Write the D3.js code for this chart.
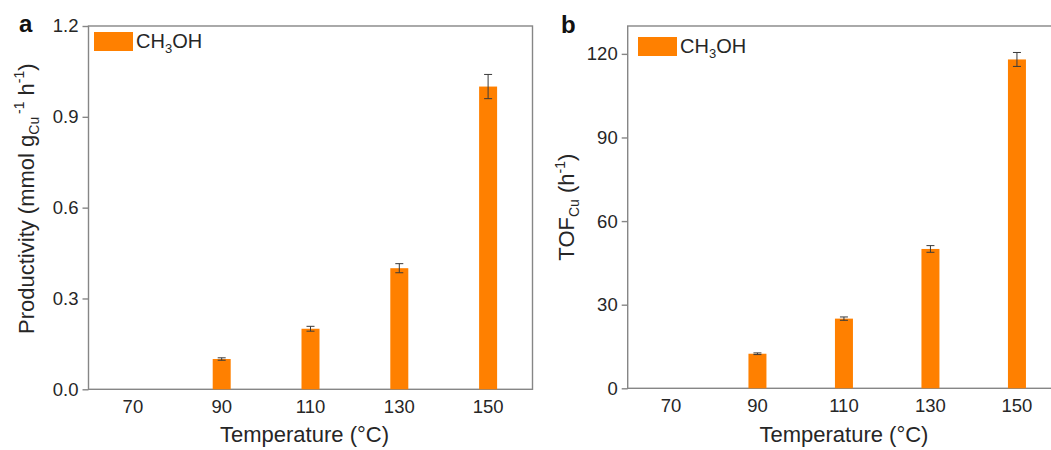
<!DOCTYPE html>
<html>
<head>
<meta charset="utf-8">
<script src="https://cdn.jsdelivr.net/npm/d3@7"></script>
<style>
  html, body { margin: 0; padding: 0; background: #fff; }
  svg { display: block; font-family: "Liberation Sans", Arial, sans-serif; }
</style>
</head>
<body>
<svg id="chart" width="1051" height="450"></svg>
<script>
// Reaction temperature categories (°C)
const temperatures = ["70", "90", "110", "130", "150"];

// Panel a: CH3OH productivity (mmol gCu^-1 h^-1) with error
const productivity = [0, 0.1, 0.2, 0.4, 1.0];
const productivityErr = [0, 0.004, 0.008, 0.015, 0.04];
const productivityTicks = [0, 0.3, 0.6, 0.9, 1.2];

// Panel b: Cu turnover frequency (h^-1) with error
const tof = [0, 12.4, 25, 50, 118];
const tofErr = [0, 0.3, 0.6, 1.2, 2.5];
const tofTicks = [0, 30, 60, 90, 120];

const seriesName = "CH3OH";
const barColor = "#ff8000";
const frameColor = "#868686";
const textColor = "#262626";

const svg = d3.select("#chart");

function drawPanel(opt) {
  const g = svg.append("g");
  const x = d3.scaleBand().domain(temperatures).range([opt.left, opt.right]).padding(0);
  const y = d3.scaleLinear().domain(opt.domain).range([opt.bottom, opt.top]);
  const barW = 18;

  // plot frame
  g.append("rect")
    .attr("x", opt.left).attr("y", opt.top)
    .attr("width", opt.right - opt.left).attr("height", opt.bottom - opt.top)
    .attr("fill", "none").attr("stroke", frameColor).attr("stroke-width", 1.4);

  // bars
  const rows = temperatures.map((t, i) => ({ t, v: opt.values[i], e: opt.errors[i] }));
  g.selectAll("rect.bar").data(rows.filter(d => d.v > 0)).join("rect")
    .attr("class", "bar")
    .attr("x", d => x(d.t) + x.bandwidth() / 2 - barW / 2)
    .attr("width", barW)
    .attr("y", d => y(d.v))
    .attr("height", d => y(0) - y(d.v))
    .attr("fill", barColor);

  // error bars
  const eb = g.selectAll("g.err").data(rows.filter(d => d.e > 0)).join("g")
    .attr("class", "err")
    .attr("stroke", "#3a3a3a").attr("stroke-width", 1);
  const cx = d => x(d.t) + x.bandwidth() / 2;
  eb.append("line")
    .attr("x1", cx).attr("x2", cx)
    .attr("y1", d => y(d.v + d.e)).attr("y2", d => y(d.v - d.e));
  eb.append("line")
    .attr("x1", d => cx(d) - 4).attr("x2", d => cx(d) + 4)
    .attr("y1", d => y(d.v + d.e)).attr("y2", d => y(d.v + d.e));
  eb.append("line")
    .attr("x1", d => cx(d) - 4).attr("x2", d => cx(d) + 4)
    .attr("y1", d => y(d.v - d.e)).attr("y2", d => y(d.v - d.e));

  // axes
  const yAxis = g.append("g")
    .attr("transform", `translate(${opt.left},0)`)
    .call(d3.axisLeft(y).tickValues(opt.ticks).tickSize(6).tickPadding(4).tickFormat(opt.fmt));
  const xAxis = g.append("g")
    .attr("transform", `translate(0,${opt.bottom})`)
    .call(d3.axisBottom(x).tickSize(0).tickPadding(11));
  [yAxis, xAxis].forEach(a => {
    a.select(".domain").remove();
    a.selectAll(".tick line").attr("stroke", frameColor).attr("stroke-width", 1.4);
    a.selectAll(".tick text").attr("fill", textColor)
      .style("font-size", "18.5px").style("font-family", "'Liberation Sans', Arial, sans-serif");
  });

  // x title
  g.append("text")
    .attr("x", (opt.left + opt.right) / 2 - opt.xTitleShift)
    .attr("y", 442)
    .attr("text-anchor", "middle")
    .attr("fill", textColor)
    .style("font-size", "22px")
    .text("Temperature (°C)");

  // y title
  const yt = g.append("text")
    .attr("transform", `translate(${opt.yTitleX},${(opt.top + opt.bottom) / 2 - opt.yTitleShift}) rotate(-90)`)
    .attr("text-anchor", "middle")
    .attr("fill", textColor)
    .style("font-size", "22px");
  opt.yTitle.forEach(p => {
    yt.append("tspan").attr("dy", p.dy || 0)
      .style("font-size", p.size ? p.size + "px" : null)
      .text(p.s);
  });

  // panel letter
  g.append("text")
    .attr("x", opt.letterX).attr("y", opt.letterY)
    .attr("fill", "#111")
    .style("font-size", "24px").style("font-weight", "bold")
    .text(opt.letter);

  // legend
  const lg = g.append("g").attr("transform", `translate(${opt.legend[0]},${opt.legend[1]})`);
  lg.append("rect").attr("x", 0).attr("y", 0).attr("width", 39).attr("height", 19).attr("fill", barColor);
  const lt = lg.append("text").attr("x", 42).attr("y", 16).attr("fill", textColor).style("font-size", "20px");
  lt.append("tspan").text(seriesName.slice(0, 2));
  lt.append("tspan").attr("dy", 5).style("font-size", "13px").text(seriesName.slice(2, 3));
  lt.append("tspan").attr("dy", -5).text(seriesName.slice(3));
}

drawPanel({
  letter: "a", letterX: 19, letterY: 32,
  left: 88.5, right: 532.5, top: 26, bottom: 389.3,
  domain: [0, 1.2], ticks: productivityTicks, fmt: d3.format(".1f"),
  values: productivity, errors: productivityErr,
  legend: [94, 32], xTitleShift: 6, yTitleX: 34, yTitleShift: 9,
  yTitle: [
    { s: "Productivity (mmol g" },
    { s: "Cu", size: 14, dy: 5 },
    { s: "\u2009-1", size: 14, dy: -15 },
    { s: " h", dy: 10 },
    { s: "-1", size: 14, dy: -10 },
    { s: ")", dy: 10 }
  ]
});

drawPanel({
  letter: "b", letterX: 561, letterY: 33,
  left: 627.7, right: 1060.2, top: 26, bottom: 388.3,
  domain: [0, 130], ticks: tofTicks, fmt: d3.format("d"),
  values: tof, errors: tofErr,
  legend: [638, 37], xTitleShift: 0, yTitleX: 574, yTitleShift: 0,
  yTitle: [
    { s: "TOF" },
    { s: "Cu", size: 14, dy: 5 },
    { s: " (h", dy: -5 },
    { s: "-1", size: 14, dy: -9 },
    { s: ")", dy: 9 }
  ]
});
</script>
</body>
</html>
